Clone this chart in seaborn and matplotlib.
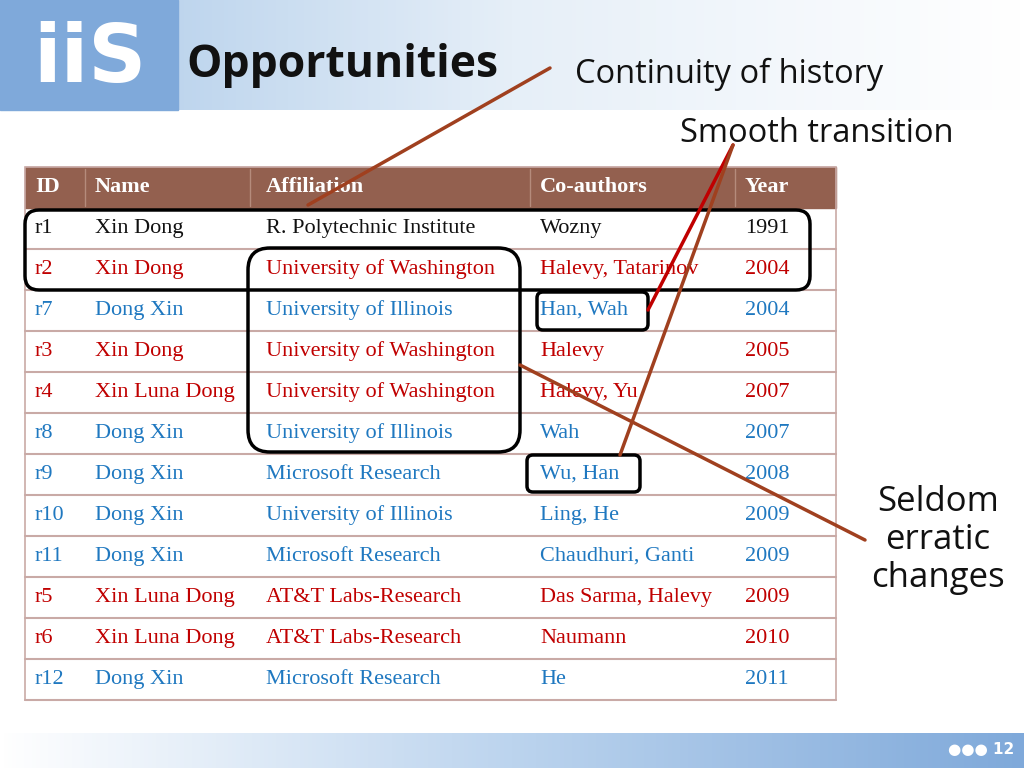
import matplotlib
matplotlib.use("Agg")
import matplotlib.pyplot as plt
import seaborn as sns
import numpy as np
from matplotlib.patches import FancyBboxPatch, Rectangle

sns.set_theme(style="white")

headers = ["ID", "Name", "Affiliation", "Co-authors", "Year"]
ids = ["r1","r2","r7","r3","r4","r8","r9","r10","r11","r5","r6","r12"]
names = ["Xin Dong","Xin Dong","Dong Xin","Xin Dong","Xin Luna Dong","Dong Xin","Dong Xin",
         "Dong Xin","Dong Xin","Xin Luna Dong","Xin Luna Dong","Dong Xin"]
affils = ["R. Polytechnic Institute","University of Washington","University of Illinois",
          "University of Washington","University of Washington","University of Illinois",
          "Microsoft Research","University of Illinois","Microsoft Research",
          "AT&T Labs-Research","AT&T Labs-Research","Microsoft Research"]
coauthors = ["Wozny","Halevy, Tatarinov","Han, Wah","Halevy","Halevy, Yu","Wah","Wu, Han",
             "Ling, He","Chaudhuri, Ganti","Das Sarma, Halevy","Naumann","He"]
years = ["1991","2004","2004","2005","2007","2007","2008","2009","2009","2009","2010","2011"]
groups = ["black","red","blue","red","red","blue","blue","blue","blue","red","red","blue"]

palette = {"black": "#111111", "red": "#C00000", "blue": "#1F78C0"}

fig = plt.figure(figsize=(10.24, 7.68), dpi=100)
ax = fig.add_axes([0, 0, 1, 1])
ax.set_xlim(0, 1024); ax.set_ylim(768, 0); ax.axis("off")

grad = np.linspace(0, 1, 256).reshape(1, -1)
ax.imshow(grad, extent=(0, 1024, 110, 0), cmap=matplotlib.colors.LinearSegmentedColormap.from_list(
    "b", ["#A9C8E8", "#E6EFF8", "#FFFFFF"]), aspect="auto", zorder=0)
ax.imshow(grad, extent=(0, 1024, 768, 733), cmap=matplotlib.colors.LinearSegmentedColormap.from_list(
    "b2", ["#FFFFFF", "#BCD4EE", "#7FA9DA"]), aspect="auto", zorder=0)
ax.add_patch(Rectangle((0, 0), 178, 110, color="#7FA9DA", zorder=1))
ax.text(90, 60, "iiS", fontsize=58, fontweight="bold", color="white", ha="center", va="center",
        family="DejaVu Sans", zorder=2)
ax.text(186, 66, "Opportunities", fontsize=32, fontweight="bold", color="#111111",
        family="Open Sans", va="center")
ax.text(575, 74, "Continuity of history", fontsize=23.5, color="#111111", family="Open Sans", va="center")
ax.text(680, 134, "Smooth transition", fontsize=23.5, color="#111111", family="Open Sans", va="center")
ax.text(938, 540, "Seldom\nerratic\nchanges", fontsize=25, color="#111111", family="Open Sans",
        va="center", ha="center", linespacing=1.15)
ax.text(1014, 750, "\u25cf\u25cf\u25cf 12", fontsize=11, color="white", fontweight="bold",
        ha="right", va="center")

x0, x1 = 25, 836
top, hh, rh = 167, 41, 41
colx = [35, 95, 266, 540, 745]
divs = [85, 250, 530, 735]
ax.add_patch(Rectangle((x0, top), x1 - x0, hh, color="#93604F", zorder=2))
for d in divs:
    ax.plot([d, d], [top + 2, top + hh - 2], color="#B58B7C", lw=1, zorder=3)
for cx, h in zip(colx, headers):
    ax.text(cx, top + hh / 2, h, color="white", fontsize=16, fontweight="bold",
            family="Liberation Serif", va="center", zorder=4)
cols = [ids, names, affils, coauthors, years]
for i, g in enumerate(groups):
    y = top + hh + i * rh
    ax.plot([x0, x1], [y + rh, y + rh], color="#C9AAA6", lw=1.5, zorder=3)
    for cx, col in zip(colx, cols):
        ax.text(cx, y + rh / 2, col[i], color=palette[g], fontsize=16,
                family="Liberation Serif", va="center", zorder=4)
ax.add_patch(Rectangle((x0, top), x1 - x0, hh + 12 * rh, fill=False, ec="#C9AAA6", lw=1.2, zorder=3))

def rbox(xa, ya, xb, yb, r=12):
    ax.add_patch(FancyBboxPatch((xa, ya), xb - xa, yb - ya, boxstyle=f"round,pad=0,rounding_size={r}",
                                fill=False, ec="black", lw=2.5, zorder=5))
rbox(25, 210, 810, 290, 14)
rbox(248, 248, 520, 452, 22)
rbox(537, 292, 648, 330, 6)
rbox(527, 455, 640, 492, 6)

ax.plot([550, 308], [68, 205], color="#A0401F", lw=2.5, zorder=6)
ax.plot([733, 648], [145, 310], color="#C00000", lw=2.5, zorder=6)
ax.plot([733, 620], [145, 455], color="#A0401F", lw=2.5, zorder=6)
ax.plot([520, 865], [365, 540], color="#A0401F", lw=2.5, zorder=6)

fig.savefig("out.png", dpi=100)
